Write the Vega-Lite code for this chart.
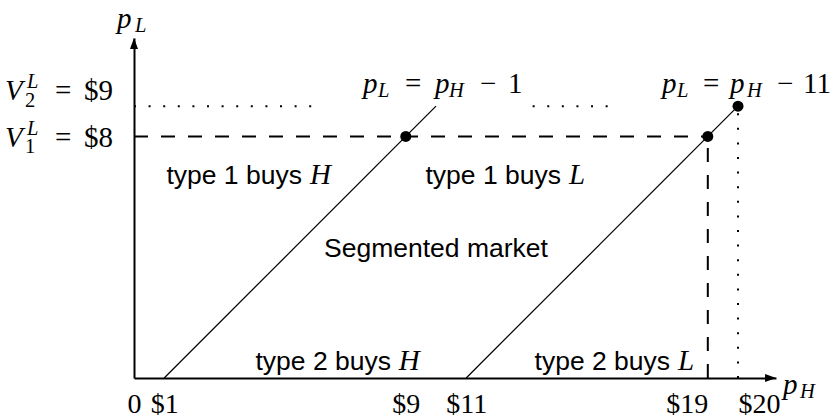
{
  "$schema": "https://vega.github.io/schema/vega-lite/v6.json",
  "width": 642,
  "height": 340,
  "autosize": {"type": "none"},
  "padding": {"left": 134, "top": 38, "right": 56, "bottom": 41},
  "background": "white",
  "config": {"view": {"stroke": null}},
  "encoding": {
    "x": {
      "field": "x", "type": "quantitative",
      "scale": {"domain": [0, 21.258], "nice": false, "zero": false},
      "axis": {
        "values": [0, 1, 9, 11, 19, 20],
        "labelExpr": "datum.value == 0 ? '0' : '$' + datum.value",
        "labelAlign": {"condition": [{"test": "datum.value == 19", "value": "right"}, {"test": "datum.value == 20", "value": "left"}], "value": "center"},
        "ticks": false, "grid": false,
        "domainColor": "black", "domainWidth": 2,
        "labelFont": "Liberation Serif", "labelFontSize": 28, "labelColor": "black",
        "labelBaseline": "alphabetic", "labelPadding": 34,
        "labelFlush": false, "labelOverlap": false, "labelBound": false,
        "title": null
      }
    },
    "y": {
      "field": "y", "type": "quantitative",
      "scale": {"domain": [0, 11.258], "nice": false, "zero": false},
      "axis": {"ticks": false, "labels": false, "grid": false, "domainColor": "black", "domainWidth": 2, "title": null}
    }
  },
  "layer": [
    {
      "data": {"values": [
        {"x": 1, "y": 0, "x2": 10, "y2": 9},
        {"x": 11, "y": 0, "x2": 20, "y2": 9}
      ]},
      "mark": {"type": "rule", "color": "black", "strokeWidth": 1.2},
      "encoding": {"x2": {"field": "x2"}, "y2": {"field": "y2"}}
    },
    {
      "data": {"values": [
        {"x": 0, "y": 8, "x2": 19, "y2": 8},
        {"x": 19, "y": 0, "x2": 19, "y2": 8}
      ]},
      "mark": {"type": "rule", "color": "black", "strokeWidth": 2, "strokeDash": [14, 13]},
      "encoding": {"x2": {"field": "x2"}, "y2": {"field": "y2"}}
    },
    {
      "data": {"values": [
        {"x": 0, "y": 9, "x2": 6.28, "y2": 9},
        {"x": 13.2, "y": 9, "x2": 16.05, "y2": 9},
        {"x": 20, "y": 0, "x2": 20, "y2": 9}
      ]},
      "mark": {"type": "rule", "color": "black", "strokeWidth": 2, "strokeDash": [2, 12.6]},
      "encoding": {"x2": {"field": "x2"}, "y2": {"field": "y2"}}
    },
    {
      "data": {"values": [
        {"x": 9, "y": 8},
        {"x": 19, "y": 8},
        {"x": 20, "y": 9}
      ]},
      "mark": {"type": "point", "filled": true, "color": "black", "opacity": 1, "size": 121}
    },
    {
      "data": {"values": [
        {"x": 21.077, "y": 0, "dir": "h"},
        {"x": 0, "y": 11.076, "dir": "v"}
      ]},
      "mark": {"type": "point", "filled": true, "color": "black", "opacity": 1, "size": 121, "strokeWidth": 0},
      "encoding": {
        "shape": {"field": "dir", "type": "nominal", "legend": null,
          "scale": {"domain": ["h", "v"], "range": ["M 1 0 L -1 -0.73 L -1 0.73 Z", "M 0 -1 L -0.73 1 L 0.73 1 Z"]}}
      }
    },
    {
      "data": {"values": [
        {"x": 7.583, "y": 9.437, "t": "p"},
        {"x": 9.967, "y": 9.437, "t": "p"},
        {"x": 17.483, "y": 9.437, "t": "p"},
        {"x": 19.735, "y": 9.437, "t": "p"},
        {"x": -4.272, "y": 9.205, "t": "V"},
        {"x": -4.272, "y": 7.649, "t": "V"},
        {"x": -0.563, "y": 11.589, "t": "p"},
        {"x": 21.49, "y": -0.53, "t": "p"},
        {"x": 5.83, "y": 6.42, "t": "H"},
        {"x": 14.4, "y": 6.42, "t": "L"},
        {"x": 8.77, "y": 0.28, "t": "H"},
        {"x": 18.01, "y": 0.28, "t": "L"}
      ]},
      "mark": {"type": "text", "font": "Liberation Serif", "fontStyle": "italic", "fontSize": 29, "align": "left", "baseline": "alphabetic", "color": "black"},
      "encoding": {"text": {"field": "t"}}
    },
    {
      "data": {"values": [
        {"x": 8.974, "y": 9.437, "t": "="},
        {"x": 11.457, "y": 9.437, "t": "−"},
        {"x": 12.384, "y": 9.437, "t": "1"},
        {"x": 18.841, "y": 9.437, "t": "="},
        {"x": 21.291, "y": 9.437, "t": "−"},
        {"x": -2.616, "y": 9.205, "t": "="},
        {"x": -1.656, "y": 9.205, "t": "$9"},
        {"x": -2.616, "y": 7.649, "t": "="},
        {"x": -1.656, "y": 7.649, "t": "$8"}
      ]},
      "mark": {"type": "text", "font": "Liberation Serif", "fontSize": 29, "align": "left", "baseline": "alphabetic", "color": "black"},
      "encoding": {"text": {"field": "t"}}
    },
    {
      "data": {"values": [
        {"x": 23.08, "y": 9.437, "t": "11"}
      ]},
      "mark": {"type": "text", "font": "Liberation Serif", "fontSize": 29, "align": "right", "baseline": "alphabetic", "color": "black"},
      "encoding": {"text": {"field": "t"}}
    },
    {
      "data": {"values": [
        {"x": 8.079, "y": 9.305, "t": "L"},
        {"x": 10.43, "y": 9.305, "t": "H"},
        {"x": 17.98, "y": 9.305, "t": "L"},
        {"x": 20.298, "y": 9.305, "t": "H"},
        {"x": -3.543, "y": 9.603, "t": "L"},
        {"x": -3.543, "y": 8.046, "t": "L"},
        {"x": 0.033, "y": 11.457, "t": "L"},
        {"x": 22.053, "y": -0.662, "t": "H"}
      ]},
      "mark": {"type": "text", "font": "Liberation Serif", "fontStyle": "italic", "fontSize": 20.5, "align": "left", "baseline": "alphabetic", "color": "black"},
      "encoding": {"text": {"field": "t"}}
    },
    {
      "data": {"values": [
        {"x": -3.609, "y": 8.974, "t": "2"},
        {"x": -3.609, "y": 7.45, "t": "1"}
      ]},
      "mark": {"type": "text", "font": "Liberation Serif", "fontSize": 20.5, "align": "left", "baseline": "alphabetic", "color": "black"},
      "encoding": {"text": {"field": "t"}}
    },
    {
      "data": {"values": [
        {"x": 5.56, "y": 6.42, "t": "type 1 buys"},
        {"x": 14.14, "y": 6.42, "t": "type 1 buys"},
        {"x": 8.51, "y": 0.28, "t": "type 2 buys"},
        {"x": 17.75, "y": 0.28, "t": "type 2 buys"}
      ]},
      "mark": {"type": "text", "font": "Liberation Sans", "fontSize": 26.5, "align": "right", "baseline": "alphabetic", "color": "black"},
      "encoding": {"text": {"field": "t"}}
    },
    {
      "data": {"values": [
        {"x": 10.0, "y": 4.0, "t": "Segmented market"}
      ]},
      "mark": {"type": "text", "font": "Liberation Sans", "fontSize": 26.5, "align": "center", "baseline": "alphabetic", "color": "black"},
      "encoding": {"text": {"field": "t"}}
    }
  ]
}
